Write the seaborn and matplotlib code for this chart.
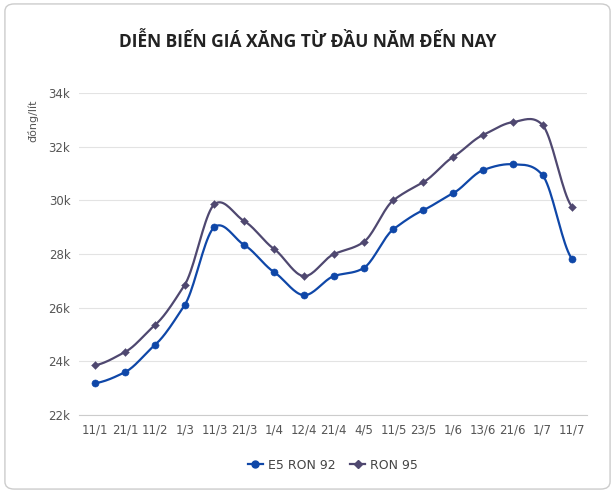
import numpy as np
import pandas as pd
import matplotlib.pyplot as plt
import seaborn as sns
from matplotlib.patches import FancyBboxPatch
from matplotlib.lines import Line2D

dates = ['11/1', '21/1', '11/2', '1/3', '11/3', '21/3', '1/4', '12/4', '21/4', '4/5',
         '11/5', '23/5', '1/6', '13/6', '21/6', '1/7', '11/7']
e5_ron92 = [23190, 23600, 24610, 26100, 29010, 28340, 27330, 26470, 27180, 27480,
            28930, 29640, 30270, 31130, 31350, 30940, 27810]
ron95 = [23860, 24350, 25350, 26850, 29860, 29230, 28190, 27180, 28000, 28450,
         30010, 30680, 31620, 32440, 32920, 32810, 29750]
series_names = ['E5 RON 92', 'RON 95']
colors = ['#0f47a8', '#4f4870']


def smooth(y, n=20, k=0.38):
    # cardinal (Hermite) spline through the points
    y = np.asarray(y, float)
    p = np.concatenate([[y[0]], y, [y[-1]]])
    xs, ys = [], []
    for i in range(len(y) - 1):
        p0, p1, p2, p3 = p[i], p[i + 1], p[i + 2], p[i + 3]
        m1, m2 = k * (p2 - p0), k * (p3 - p1)
        t = np.linspace(0, 1, n, endpoint=False)
        h00 = 2 * t ** 3 - 3 * t ** 2 + 1
        h10 = t ** 3 - 2 * t ** 2 + t
        h01 = -2 * t ** 3 + 3 * t ** 2
        h11 = t ** 3 - t ** 2
        ys.append(h00 * p1 + h10 * m1 + h01 * p2 + h11 * m2)
        xs.append(i + t)
    xs.append([len(y) - 1])
    ys.append([y[-1]])
    return np.concatenate(xs), np.concatenate(ys)


fig = plt.figure(figsize=(6.15, 4.93), dpi=100)
frame = FancyBboxPatch((0.008, 0.008), 0.984, 0.984, boxstyle='round,pad=0,rounding_size=0.015',
                       transform=fig.transFigure, fc='white', ec='#cccccc', lw=1, zorder=-10)
fig.patches.append(frame)
ax = fig.add_axes([0.128, 0.158, 0.827, 0.653])
ax.set_zorder(5)
ax.patch.set_alpha(0)

x = np.arange(len(dates))
markers = ['o', 'D']
for vals, c, m in [(e5_ron92, colors[0], markers[0]), (ron95, colors[1], markers[1])]:
    sx, sy = smooth(vals)
    sns.lineplot(x=sx, y=sy, ax=ax, color=c, lw=1.6)
    sns.scatterplot(x=x, y=vals, ax=ax, color=c, marker=m, s=26 if m == 'o' else 16,
                    edgecolor=c, zorder=5)

ax.set_xlim(-0.55, len(dates) - 0.5)
ax.set_ylim(22000, 34000)
ax.set_yticks(range(22000, 34001, 2000))
ax.set_yticklabels([f'{v // 1000}k' for v in range(22000, 34001, 2000)])
ax.set_xticks(x)
ax.set_xticklabels(dates)
ax.tick_params(axis='both', length=0, labelsize=8.5, colors='#555555', pad=6)
ax.grid(axis='y', color='#e3e3e3', lw=0.8)
ax.set_axisbelow(True)
for s in ['top', 'right', 'left']:
    ax.spines[s].set_visible(False)
ax.spines['bottom'].set_color('#cccccc')
ax.set_ylabel('')
ax.text(-0.09, 0.98, 'đồng/lít', transform=ax.transAxes, rotation=90, ha='center', va='top',
        fontsize=8, color='#555555')

fig.suptitle('DIỄN BIẾN GIÁ XĂNG TỪ ĐẦU NĂM ĐẾN NAY', y=0.935, fontsize=12.5,
             fontweight='bold', color='#222222', fontfamily='Open Sans')
handles = [Line2D([], [], color=c, lw=1.6, marker=m, markersize=5 if m == 'o' else 4)
           for c, m in zip(colors, markers)]
ax.legend(handles, series_names, loc='upper center', bbox_to_anchor=(0.5, -0.1), ncol=2,
          frameon=False, fontsize=9, labelcolor='#444444', handlelength=1.2,
          handletextpad=0.4, columnspacing=1.2)

fig.savefig('out.png', dpi=100)
